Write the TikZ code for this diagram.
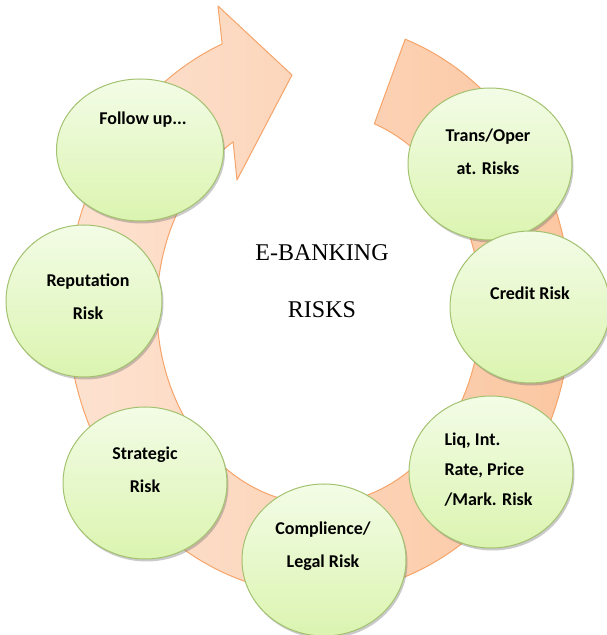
\documentclass[tikz,border=0pt]{standalone}
\usepackage{fontspec}
\setmainfont{Liberation Serif}
\newfontfamily\calib{Carlito}
\usetikzlibrary{shapes.geometric,shadows}
\definecolor{ringA}{HTML}{FDE4D4}
\definecolor{ringB}{HTML}{FBC59E}
\definecolor{ringLine}{HTML}{F5A46A}
\definecolor{circTop}{HTML}{F3FCE6}
\definecolor{circBot}{HTML}{DBF4B0}
\definecolor{circLine}{HTML}{A3C270}
\begin{document}
\begin{tikzpicture}[x=1pt,y=1pt,
  riskcirc/.style={ellipse, draw=circLine, line width=1pt, top color=circTop, bottom color=circBot,
    minimum width=164pt, minimum height=152pt, inner sep=0pt,
    drop shadow={shadow xshift=1.5pt, shadow yshift=-2.5pt, opacity=0.35, fill=black!60}},
  risktext/.style={font=\calib\bfseries\fontsize{18}{33}\selectfont, align=center, text=black},
  titletext/.style={font=\fontsize{24}{28}\selectfont}]
\useasboundingbox (0,0) rectangle (606,635);
% circular arrow
\draw[ringLine, line width=1pt, line join=round, left color=ringA, right color=ringB]
  (405.2,595.8) arc[start angle=70, end angle=-247.4, x radius=252pt, y radius=286pt]
  -- (218,629) -- (292,560) -- (237,455) -- (233.1,493.2)
  arc[start angle=-238, end angle=70, x radius=162pt, y radius=196pt] -- cycle;
% circles
\node[riskcirc, minimum width=167pt, minimum height=142pt] (fu) at (140,485) {};
\node[risktext] (fut) at (143,515) {Follow up...};
\node[riskcirc] (tr) at (490,471) {};
\node[risktext] (trt) at (488,483.5) {Trans/Oper\\at. Risks};
\node[riskcirc, minimum width=160pt] (cr) at (530,328) {};
\node[risktext] (crt) at (530,342) {Credit Risk};
\node[riskcirc] (lq) at (491,163) {};
\node[risktext, font=\calib\bfseries\fontsize{18}{30}\selectfont, align=left, anchor=west] (lqt) at (441,165) {Liq, Int.\\Rate, Price\\/Mark. Risk};
\node[riskcirc] (co) at (324,75) {};
\node[risktext] (cot) at (323,89) {Complience/\\Legal Risk};
\node[riskcirc] (st) at (145,152) {};
\node[risktext] (stt) at (145,165) {Strategic\\Risk};
\node[riskcirc, minimum width=156pt] (re) at (84,334) {};
\node[risktext] (ret) at (88,338) {Reputation\\Risk};
% title
\node[titletext] (t1) at (322,382) {E-BANKING};
\node[titletext] (t2) at (322,325) {RISKS};
\end{tikzpicture}
\end{document}
